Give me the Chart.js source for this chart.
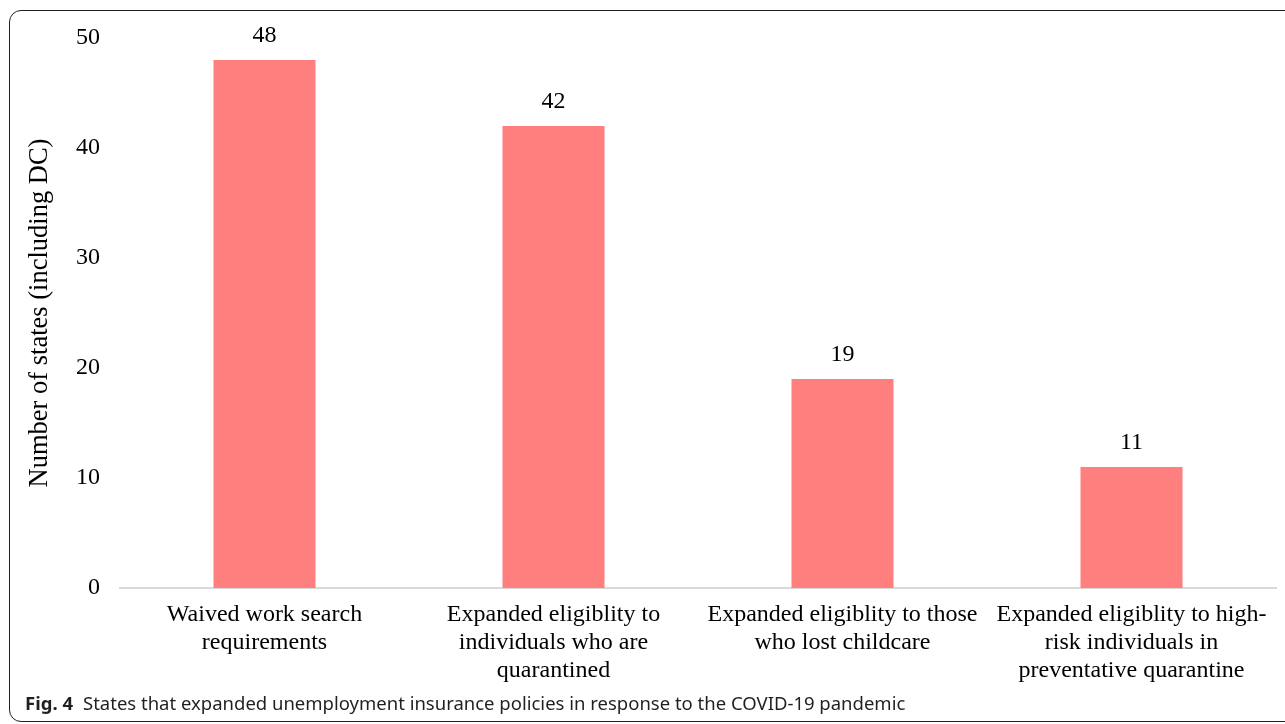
<!DOCTYPE html>
<html>
<head>
<meta charset="utf-8">
<script src="https://cdn.jsdelivr.net/npm/chart.js@4.4.1/dist/chart.umd.min.js"></script>
<style>
    html, body { margin: 0; padding: 0; background: #fff; }
    #wrap { position: relative; width: 1285px; height: 724px; overflow: hidden; }
    #frame {
        position: absolute; left: 9px; top: 10px; width: 1320px; height: 712px;
        border: 1.5px solid #231f20; border-radius: 12px; box-sizing: border-box;
    }
    #grafico { position: absolute; left: 0; top: 0; }
    #legenda {
        position: absolute; left: 25px; top: 689px;
        font-family: "Noto Sans", sans-serif; font-size: 18.5px; color: #231f20;
        white-space: nowrap; line-height: 28px;
    }
    #legenda b { margin-right: 10px; }
</style>
</head>
<body>
<div id="wrap">
    <div id="frame"></div>
    <canvas id="grafico" width="1285" height="724"></canvas>
    <div id="legenda"><b>Fig. 4</b>States that expanded unemployment insurance policies in response to the COVID-19 pandemic</div>
</div>
<script>
// dados do gráfico
const categorias = [
    ['Waived work search', 'requirements'],
    ['Expanded eligiblity to', 'individuals who are', 'quarantined'],
    ['Expanded eligiblity to those', 'who lost childcare'],
    ['Expanded eligiblity to high-', 'risk individuals in', 'preventative quarantine']
];
const numeroEstados = [48, 42, 19, 11];
const tituloEixoY = 'Number of states (including DC)';
const ticksY = [0, 10, 20, 30, 40, 50];

const fonteSerif = '"Liberation Serif", "Times New Roman", serif';

// escreve o valor em cima de cada barra
const rotulosBarras = {
    id: 'rotulosBarras',
    afterDatasetsDraw(chart) {
        const ctx = chart.ctx;
        const meta = chart.getDatasetMeta(0);
        ctx.save();
        ctx.font = '24px ' + fonteSerif;
        ctx.fillStyle = '#000';
        ctx.textAlign = 'center';
        ctx.textBaseline = 'middle';
        meta.data.forEach(function (bar, i) {
            ctx.fillText(String(numeroEstados[i]), bar.x, bar.y - 24);
        });
        ctx.restore();
    }
};

const ctx = document.getElementById('grafico').getContext('2d');
const grafico = new Chart(ctx, {
    type: 'bar',
    data: {
        labels: categorias,
        datasets: [{
            data: numeroEstados,
            backgroundColor: '#ff7f7e',
            barPercentage: 1,
            categoryPercentage: 0.353
        }]
    },
    options: {
        responsive: false,
        animation: false,
        layout: { padding: { top: 38, right: 9, bottom: 0, left: 0 } },
        plugins: {
            legend: { display: false },
            tooltip: { enabled: false }
        },
        scales: {
            x: {
                grid: { display: false, drawTicks: false },
                border: { display: true, color: '#d9d9d9', width: 2 },
                ticks: {
                    color: '#000',
                    padding: 13,
                    maxRotation: 0,
                    autoSkip: false,
                    font: { family: fonteSerif, size: 24, lineHeight: 1.17 }
                },
                afterFit: function (scale) { scale.height = 136; }
            },
            y: {
                min: 0,
                max: 50,
                afterBuildTicks: function (scale) {
                    scale.ticks = ticksY.map(function (v) { return { value: v }; });
                },
                grid: { display: false, drawTicks: false },
                border: { display: false },
                ticks: {
                    color: '#000',
                    padding: 20,
                    font: { family: fonteSerif, size: 24 }
                },
                title: {
                    display: true,
                    text: tituloEixoY,
                    color: '#000',
                    padding: { top: 25, bottom: 0 },
                    font: { family: fonteSerif, size: 26.5, lineHeight: 1.1 }
                },
                afterFit: function (scale) { scale.width = 120; }
            }
        }
    },
    plugins: [rotulosBarras]
});
</script>
</body>
</html>
